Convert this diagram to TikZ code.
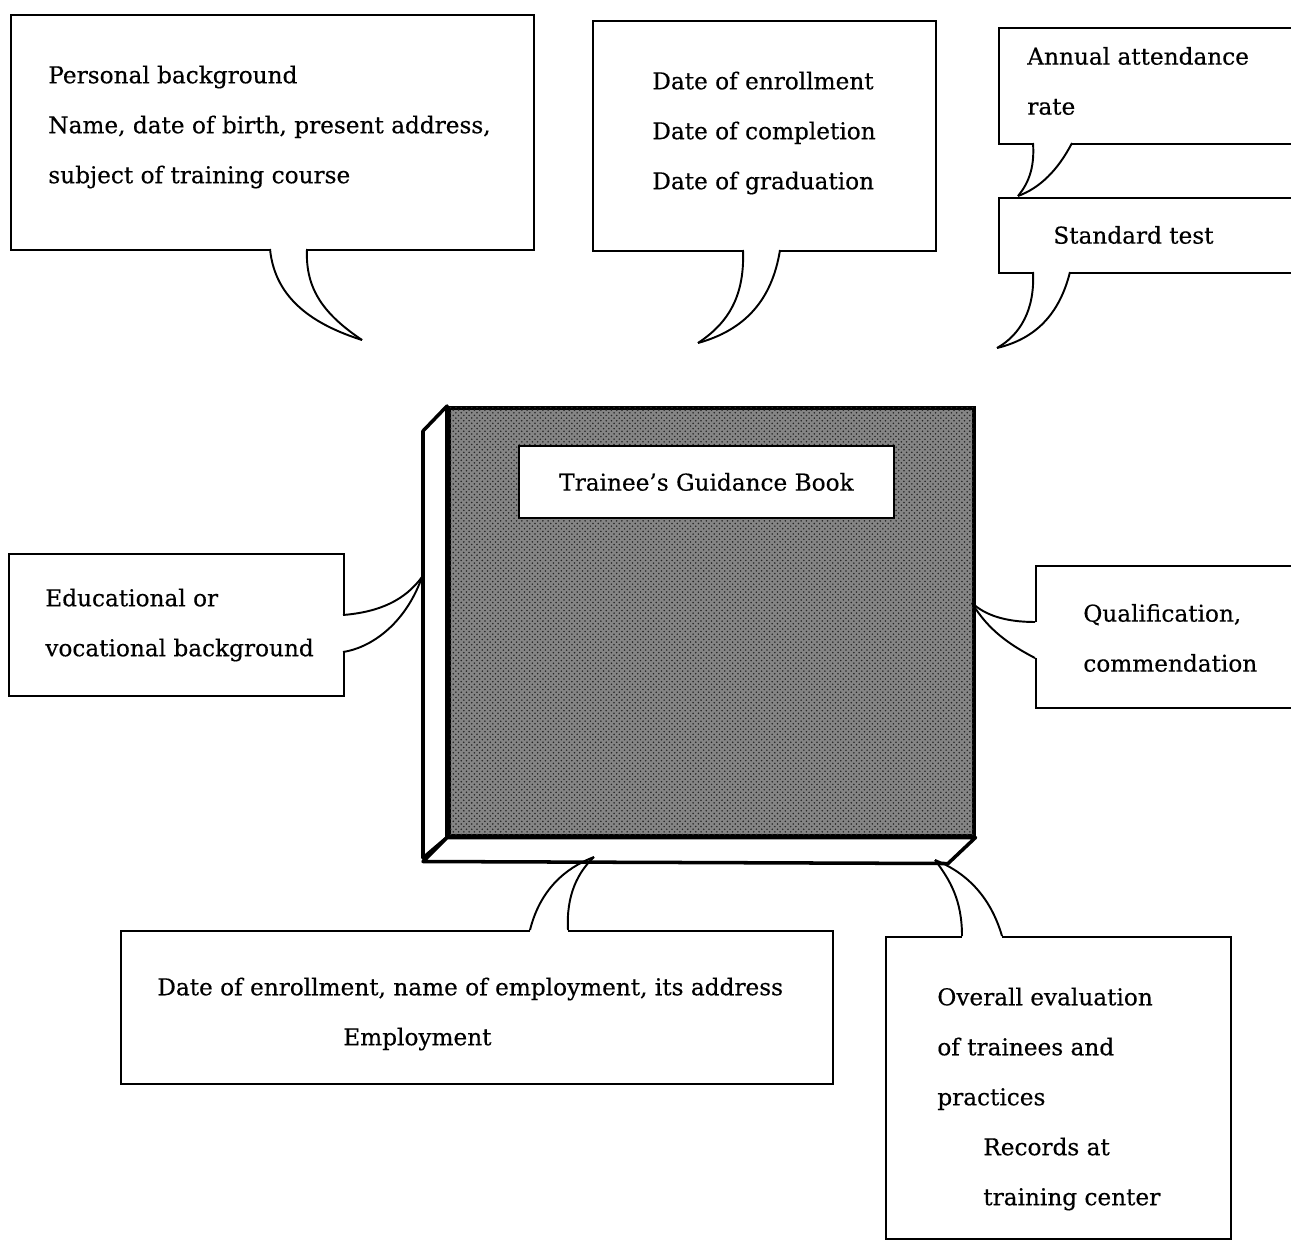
\documentclass[tikz,border=0pt]{standalone}
\usepackage{fontspec}
\setmainfont{DejaVu Serif}[BoldFont=DejaVu Serif, BoldFeatures={FakeBold=0.4}]
\usetikzlibrary{positioning, patterns}

% one unit of the grid below
\newcommand{\pxl}{0.02cm}

\tikzset{
  callout/.style={draw, line width=1.1pt, fill=white, inner sep=0pt, anchor=north west},
  note/.style={font=\fontsize{13.2}{28.45}\selectfont\bfseries, align=left, inner sep=0pt, anchor=west},
  tail/.style={line width=1.1pt},
  gap/.style={white, line width=2.2pt},
}

\begin{document}
\begin{tikzpicture}[x=0.02cm, y=-0.02cm]
  \useasboundingbox (0,0) rectangle (1291,1243);

  % the book
  \node[draw, line width=2pt, fill=black!48, inner sep=0pt, anchor=north west,
        postaction={pattern=crosshatch dots, pattern color=black!85},
        minimum width=525*\pxl, minimum height=428*\pxl] (book) at (447,406) {};
  \draw[line width=2pt, fill=white, line join=round]
    (book.north west) -- ++(-24,25) -- ++(0,427) -- (book.south west) -- cycle;
  \draw[line width=2pt, fill=white, line join=round]
    (book.south west) -- ++(-24,24) -- ++(525,2) -- (book.south east) -- cycle;
  \node[draw, line width=1.1pt, fill=white, inner sep=0pt, anchor=north west,
        minimum width=375*\pxl, minimum height=72*\pxl,
        font=\fontsize{13.2}{16}\selectfont\bfseries] (title) at (518,445)
    {Trainee's Guidance Book};

  % boxes
  \node[callout, minimum width=523*\pxl, minimum height=235*\pxl] (persbox) at (10,14) {};
  \node[note] (perstext) at (48,127)
    {Personal background\\Name, date of birth, present address,\\subject of training course};

  \node[callout, minimum width=343*\pxl, minimum height=230*\pxl] (datebox) at (592,20) {};
  \node[note] (datetext) at (652,133)
    {Date of enrollment\\Date of completion\\Date of graduation};

  \node[callout, minimum width=310*\pxl, minimum height=116*\pxl] (attbox) at (998,27) {};
  \node[note] (atttext) at (1027,81) {Annual attendance\\rate};

  \node[callout, minimum width=310*\pxl, minimum height=75*\pxl] (testbox) at (998,197) {};
  \node[note] (testtext) at (1053,235) {Standard test};

  \node[callout, minimum width=335*\pxl, minimum height=142*\pxl] (edubox) at (8,553) {};
  \node[note] (edutext) at (45,625) {Educational or\\vocational background};

  \node[callout, minimum width=270*\pxl, minimum height=142*\pxl] (qualbox) at (1035,565) {};
  \node[note] (qualtext) at (1083,638) {Qualification,\\commendation};

  \node[callout, minimum width=712*\pxl, minimum height=153*\pxl] (empbox) at (120,930) {};
  \node[note] (emptext) at (157,1014)
    {Date of enrollment, name of employment, its address\\\hspace*{3.72cm}Employment};

  \node[callout, minimum width=345*\pxl, minimum height=302*\pxl] (evalbox) at (885,936) {};
  \node[note] (evaltext) at (937,1099)
    {Overall evaluation\\of trainees and\\practices\\\hspace*{0.92cm}Records at\\\hspace*{0.92cm}training center};

  % tails: bases on the boxes, tips at the book
  \coordinate (persA) at (270,249);  \coordinate (persB) at (307,249);  \coordinate (persTip) at (362,340);
  \coordinate (dateA) at (743,250);  \coordinate (dateB) at (780,250);  \coordinate (dateTip) at (698,343);
  \coordinate (attA) at (1033,143);  \coordinate (attB) at (1072,143);  \coordinate (attTip) at (1018,196);
  \coordinate (testA) at (1033,272); \coordinate (testB) at (1070,272); \coordinate (testTip) at (997,348);
  \coordinate (eduA) at (343,615);   \coordinate (eduB) at (343,652);   \coordinate (eduTip) at (422,577);
  \coordinate (qualA) at (1035,622); \coordinate (qualB) at (1035,658); \coordinate (qualTip) at (972,603);
  \coordinate (empA) at (530,930);   \coordinate (empB) at (568,930);   \coordinate (empTip) at (594,857);
  \coordinate (evalA) at (962,936);  \coordinate (evalB) at (1002,936); \coordinate (evalTip) at (935,860);

  \draw[gap] (persA) -- (persB);
  \draw[tail] (persA) .. controls (275,300) and (315,325) .. (persTip);
  \draw[tail] (persB) .. controls (305,290) and (325,315) .. (persTip);

  \draw[gap] (dateA) -- (dateB);
  \draw[tail] (dateA) .. controls (745,300) and (725,325) .. (dateTip);
  \draw[tail] (dateB) .. controls (772,300) and (745,330) .. (dateTip);

  \draw[gap] (attA) -- (attB);
  \draw[tail] (attA) .. controls (1035,170) and (1027,185) .. (attTip);
  \draw[tail] (attB) .. controls (1058,170) and (1040,188) .. (attTip);

  \draw[gap] (testA) -- (testB);
  \draw[tail] (testA) .. controls (1035,310) and (1020,335) .. (testTip);
  \draw[tail] (testB) .. controls (1058,320) and (1030,340) .. (testTip);

  \draw[gap] (eduA) -- (eduB);
  \draw[tail] (eduA) .. controls (380,612) and (405,600) .. (eduTip);
  \draw[tail] (eduB) .. controls (370,648) and (405,625) .. (eduTip);

  \draw[gap] (qualA) -- (qualB);
  \draw[tail] (qualA) .. controls (1005,622) and (985,615) .. (qualTip);
  \draw[tail] (qualB) .. controls (1010,645) and (988,630) .. (qualTip);

  \draw[gap] (empA) -- (empB);
  \draw[tail] (empA) .. controls (540,890) and (565,868) .. (empTip);
  \draw[tail] (empB) .. controls (566,895) and (578,872) .. (empTip);

  \draw[gap] (evalA) -- (evalB);
  \draw[tail] (evalA) .. controls (962,900) and (950,880) .. (evalTip);
  \draw[tail] (evalB) .. controls (990,895) and (965,872) .. (evalTip);
\end{tikzpicture}
\end{document}
